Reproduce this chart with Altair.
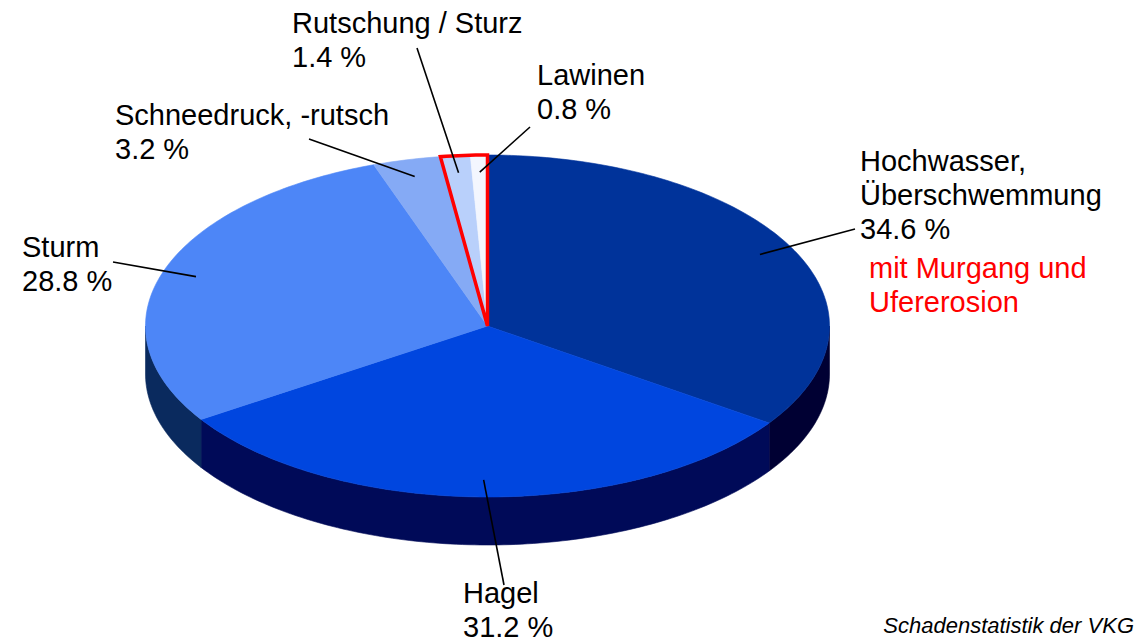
import math
import altair as alt

# ---------------- data ----------------
categories = ["Hochwasser, Überschwemmung", "Hagel", "Sturm",
              "Schneedruck, -rutsch", "Rutschung / Sturz", "Lawinen"]
label_lines = [["Hochwasser,", "Überschwemmung"], ["Hagel"], ["Sturm"],
               ["Schneedruck, -rutsch"], ["Rutschung / Sturz"], ["Lawinen"]]
shares = [34.6, 31.2, 28.8, 3.2, 1.4, 0.8]
highlighted = ["Rutschung / Sturz", "Lawinen"]
note_lines = ["mit Murgang und", "Ufererosion"]
source_text = "Schadenstatistik der VKG"

# ---------------- styles / layout ----------------
top_colors = ["#00339A", "#0046DF", "#4D86F7", "#85AAF5", "#B9D0FB", "#F3F6FE"]
side_colors = ["#000033", "#000A58", "#0A2A5E", "#3A5590", "#6A7FB0", "#9AA8C8"]
CX, CY, RX, RY, DEPTH = 487.5, 326.0, 342.0, 171.0, 48.0
FONT = "Liberation Sans"
FS = 29
LINE_H = 34
label_pos = [(860, 171), (463, 603), (22, 257), (115, 125), (292, 33), (537, 85)]
leader_out = [(855, 229), (504, 585), (113, 262), (309, 139), (417, 48), (530, 127)]
note_pos = (869, 278)
source_pos = (1134, 633)


def pt(theta, dy=0.0):
    r = math.radians(theta)
    return [CX + RX * math.sin(r), CY - RY * math.cos(r) + dy]


def arc(a1, a2, dy=0.0):
    n = max(2, int(abs(a2 - a1)) + 2)
    return [pt(a1 + (a2 - a1) * i / (n - 1), dy) for i in range(n)]


total = sum(shares)
bounds = []
acc = 0.0
for v in shares:
    a1 = acc / total * 360.0
    acc += v
    a2 = acc / total * 360.0
    bounds.append((a1, a2))

top_features, side_features = [], []
for cat, (a1, a2), tc, sc in zip(categories, bounds, top_colors, side_colors):
    ring = [[CX, CY]] + arc(a1, a2) + [[CX, CY]]
    top_features.append({"type": "Feature", "properties": {"name": cat, "fill": tc},
                         "geometry": {"type": "Polygon", "coordinates": [ring]}})
    b1, b2 = max(a1, 90.0), min(a2, 270.0)
    if b2 > b1:
        ring = arc(b1, b2) + arc(b2, b1, DEPTH)
        ring.append(ring[0])
        side_features.append({"type": "Feature", "properties": {"name": cat, "fill": sc},
                              "geometry": {"type": "Polygon", "coordinates": [ring]}})

# highlight outline around the highlighted slices
hi_idx = [categories.index(c) for c in highlighted]
h1 = min(bounds[i][0] for i in hi_idx)
h2 = max(bounds[i][1] for i in hi_idx)
hring = [[CX, CY]] + arc(h1, h2) + [[CX, CY]]
hi_features = [{"type": "Feature", "properties": {"name": "highlight"},
                "geometry": {"type": "Polygon", "coordinates": [hring]}}]

# text rows
text_rows = []
for lines, v, (lx, ly) in zip(label_lines, shares, label_pos):
    all_lines = lines + [f"{v:.1f} %"]
    for k, t in enumerate(all_lines):
        text_rows.append({"lon": lx, "lat": ly + k * LINE_H, "text": t, "color": "#000000"})
for k, t in enumerate(note_lines):
    text_rows.append({"lon": note_pos[0], "lat": note_pos[1] + k * LINE_H, "text": t, "color": "#FF0000"})

# leader lines
line_rows = []
for i, ((a1, a2), (ox, oy)) in enumerate(zip(bounds, leader_out)):
    mid = (a1 + a2) / 2.0
    ix = CX + 0.9 * RX * math.sin(math.radians(mid))
    iy = CY - 0.9 * RY * math.cos(math.radians(mid))
    line_rows.append({"id": i, "o": 0, "lon": ox, "lat": oy})
    line_rows.append({"id": i, "o": 1, "lon": ix, "lat": iy})

proj = dict(type="identity", scale=1, translate=[-8, -8])

sides = alt.Chart(alt.Data(values=side_features)).mark_geoshape(strokeWidth=0.6).encode(
    fill=alt.Fill("properties.fill:N", scale=None),
    stroke=alt.Stroke("properties.fill:N", scale=None),
).project(**proj)

tops = alt.Chart(alt.Data(values=top_features)).mark_geoshape(strokeWidth=0.6).encode(
    fill=alt.Fill("properties.fill:N", scale=None),
    stroke=alt.Stroke("properties.fill:N", scale=None),
).project(**proj)

outline = alt.Chart(alt.Data(values=hi_features)).mark_geoshape(
    filled=False, stroke="#FF0000", strokeWidth=3.5, strokeJoin="miter"
).encode(detail=alt.Detail("properties.name:N")).project(**proj)

leaders = alt.Chart(alt.Data(values=line_rows)).mark_line(
    color="#000000", strokeWidth=1.6
).encode(
    longitude="lon:Q", latitude="lat:Q", detail="id:N", order="o:Q"
).project(**proj)

texts = alt.Chart(alt.Data(values=text_rows)).mark_text(
    align="left", baseline="alphabetic", font=FONT, fontSize=FS
).encode(
    longitude="lon:Q", latitude="lat:Q", text="text:N",
    color=alt.Color("color:N", scale=None),
).project(**proj)

source = alt.Chart(alt.Data(values=[{"lon": source_pos[0], "lat": source_pos[1], "text": source_text}])).mark_text(
    align="right", baseline="alphabetic", font=FONT, fontSize=22, fontStyle="italic", color="#000000"
).encode(
    longitude="lon:Q", latitude="lat:Q", text="text:N"
).project(**proj)

chart = alt.layer(sides, tops, outline, leaders, texts, source).properties(
    width=1126, height=634, autosize="none", padding=0, background="#FFFFFF"
).configure_view(stroke=None)

chart.save("out.html", embed_options={"renderer": "svg", "actions": False})
